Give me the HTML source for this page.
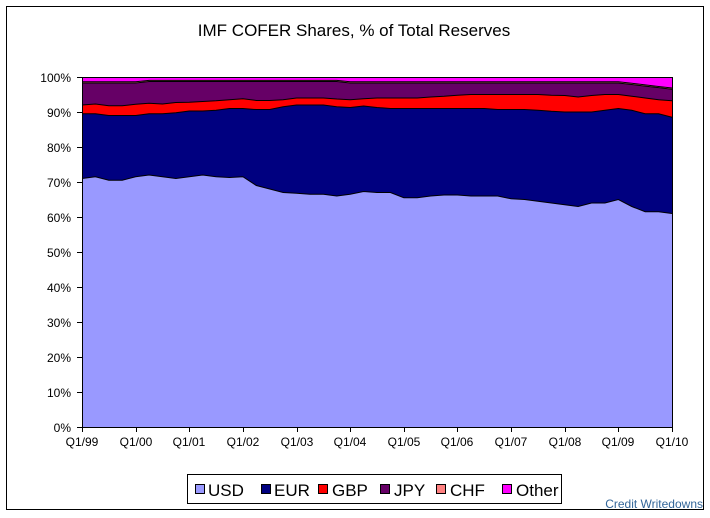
<!DOCTYPE html>
<html><head><meta charset="utf-8"><style>
body{margin:0;background:#fff;width:710px;height:513px;overflow:hidden;font-family:"Liberation Sans",Arial,sans-serif}
</style></head><body>
<svg id="s" width="710" height="513" xmlns="http://www.w3.org/2000/svg" font-family="Liberation Sans, Arial, sans-serif">
<rect x="6.5" y="6.5" width="697" height="503" fill="#fff" stroke="#000" stroke-width="1"/>
<text x="354" y="36" font-size="17" text-anchor="middle">IMF COFER Shares, % of Total Reserves</text>
<g id="areas"></g>
<rect x="82.5" y="77.5" width="590" height="350" fill="none" stroke="#000" stroke-width="1"/>
<g font-size="12" text-anchor="end">
<text x="71" y="82">100%</text><text x="71" y="117">90%</text><text x="71" y="152">80%</text>
<text x="71" y="187">70%</text><text x="71" y="222">60%</text><text x="71" y="257">50%</text>
<text x="71" y="292">40%</text><text x="71" y="327">30%</text><text x="71" y="362">20%</text>
<text x="71" y="397">10%</text><text x="71" y="432">0%</text>
</g>
<g id="ticks" stroke="#000"></g>
<g font-size="12" text-anchor="middle">
<text x="82" y="446">Q1/99</text><text x="136" y="446">Q1/00</text><text x="189" y="446">Q1/01</text>
<text x="243" y="446">Q1/02</text><text x="297" y="446">Q1/03</text><text x="350" y="446">Q1/04</text>
<text x="404" y="446">Q1/05</text><text x="457" y="446">Q1/06</text><text x="511" y="446">Q1/07</text>
<text x="565" y="446">Q1/08</text><text x="618" y="446">Q1/09</text><text x="672" y="446">Q1/10</text>
</g>
<rect x="187.5" y="474.5" width="374" height="29" fill="#fff" stroke="#000"/>
<g font-size="17">
<rect x="195.5" y="484.5" width="9" height="9" fill="#9999FF" stroke="#000"/><text x="208" y="496">USD</text>
<rect x="261.5" y="484.5" width="9" height="9" fill="#000080" stroke="#000"/><text x="274" y="496">EUR</text>
<rect x="318.5" y="484.5" width="9" height="9" fill="#FF0000" stroke="#000"/><text x="332" y="496">GBP</text>
<rect x="380.5" y="484.5" width="9" height="9" fill="#660066" stroke="#000"/><text x="394" y="496">JPY</text>
<rect x="436.5" y="484.5" width="9" height="9" fill="#FF8080" stroke="#000"/><text x="450" y="496">CHF</text>
<rect x="502.5" y="484.5" width="9" height="9" fill="#FF00FF" stroke="#000"/><text x="516" y="496">Other</text>
</g>
<text x="703" y="508" font-size="12" fill="#336699" text-anchor="end">Credit Writedowns</text>
</svg>
<script>
var usd=[71,71.5,70.5,70.5,71.5,72,71.5,71,71.5,72,71.5,71.3,71.5,69,68,67,66.8,66.5,66.5,66,66.5,67.3,67,67,65.5,65.5,66,66.3,66.3,66,66,66,65.2,65,64.5,64,63.5,63,64,64,65,63,61.5,61.5,61];
var eur=[89.5,89.5,89,89,89,89.5,89.5,89.8,90.3,90.3,90.5,91,91,90.7,90.7,91.5,92,92,92,91.5,91.3,91.7,91.3,91,91,91,91,91,91,91,91,90.7,90.7,90.7,90.5,90.2,90,90,90,90.5,91,90.5,89.5,89.5,88.5];
var gbp=[92,92.3,91.8,91.8,92.2,92.5,92.3,92.7,92.8,93,93.2,93.5,93.8,93.3,93.3,93.5,94,94,94,93.7,93.5,93.8,94,94,94,94,94.3,94.5,94.8,95,95,95,95,95,95,94.8,94.7,94.3,94.7,95,95,94.5,94,93.5,93.2];
var jpy=[], chf=[];
for(var i=0;i<45;i++){var j=98.3+(i>4&&i<20?0.4:0);if(i>=40)j=98.3-(i-40)*0.45;jpy.push(j);chf.push(j+0.35);}
var oth=usd.map(function(){return 100});
var X=function(i){return 82+i*590/44},Y=function(v){return 427-3.5*v};
var zero=usd.map(function(){return 0});
var ser=[[zero,usd,"#9999FF"],[usd,eur,"#000080"],[eur,gbp,"#FF0000"],[gbp,jpy,"#660066"],[jpy,chf,"#FF8080"],[chf,oth,"#FF00FF"]];
var g=document.getElementById("areas"),h="";
ser.forEach(function(s){var p=[];for(var i=0;i<45;i++)p.push(X(i)+","+Y(s[1][i]));for(var i=44;i>=0;i--)p.push(X(i)+","+Y(s[0][i]));
h+='<polygon points="'+p.join(" ")+'" fill="'+s[2]+'"/>';});
ser.slice(0,5).forEach(function(s){var p=[];for(var i=0;i<45;i++)p.push(X(i)+","+Y(s[1][i]));h+='<polyline points="'+p.join(" ")+'" fill="none" stroke="#000" stroke-width="1"/>';});
g.innerHTML=h;
var t="";for(var k=0;k<=10;k++){var y=77.5+k*35;t+='<line x1="77" y1="'+y+'" x2="82" y2="'+y+'"/>';}
for(var k=0;k<=11;k++){var x=Math.round(82+k*590/11)+0.5;t+='<line x1="'+x+'" y1="427" x2="'+x+'" y2="432"/>';}
document.getElementById("ticks").innerHTML=t;
</script>
</body></html>
